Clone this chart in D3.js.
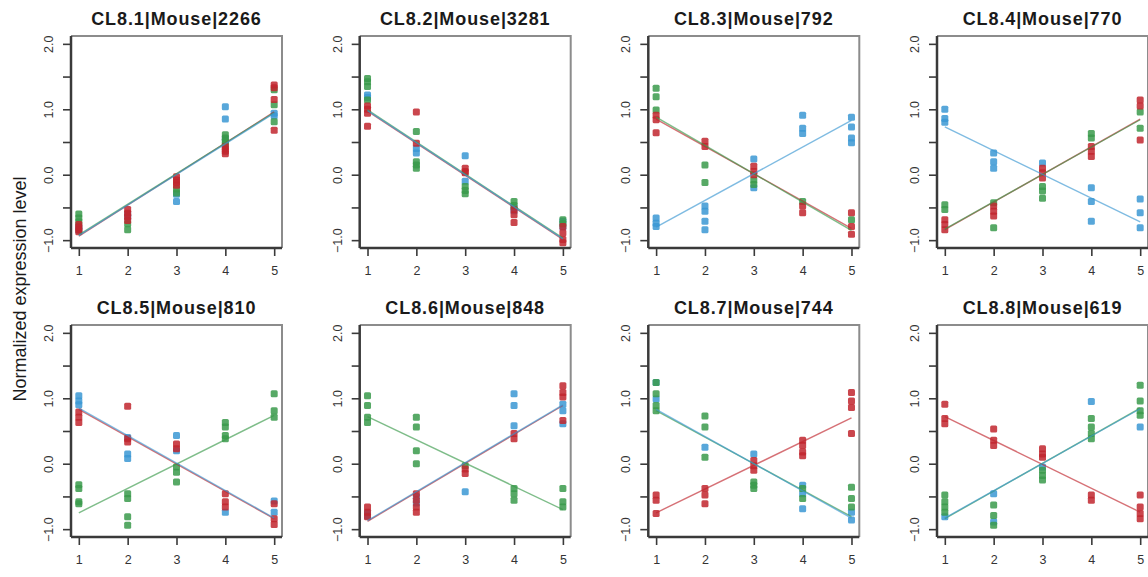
<!DOCTYPE html>
<html><head><meta charset="utf-8">
<script src="https://cdn.jsdelivr.net/npm/d3@7"></script>
<style>body{margin:0;background:#fff} svg{display:block}</style>
</head><body><svg id="chart" width="1148" height="577"></svg>
<script>
const titles = ["CL8.1|Mouse|2266","CL8.2|Mouse|3281","CL8.3|Mouse|792","CL8.4|Mouse|770",
                "CL8.5|Mouse|810","CL8.6|Mouse|848","CL8.7|Mouse|744","CL8.8|Mouse|619"];
const xLevels = [1,2,3,4,5];
const yTicks = [-1,-0.5,0,0.5,1,1.5,2];
const yLabelTicks = [-1,0,1,2];
const seriesKeys = ["blue","green","red"];
const lineOrder = ["red","green","blue"];
const seriesColors = {blue:"#3b98d3", green:"#3a9a4b", red:"#c1262e"};
const yAxisTitle = "Normalized expression level";

// points per series: one list of values per x level (1..5)
const panel1 = {
  blue:  [[-0.80,-0.85],[-0.60,-0.65],[-0.30,-0.41],[1.04,0.85,0.55],[0.94,0.90]],
  green: [[-0.60,-0.66,-0.72],[-0.75,-0.84],[-0.22,-0.28],[0.61,0.56,0.51,0.47],[1.30,1.07,0.81]],
  red:   [[-0.76,-0.80,-0.84,-0.87],[-0.53,-0.59,-0.64,-0.70],[-0.03,-0.08,-0.12,-0.16],[0.43,0.39,0.36,0.32],[1.37,1.33,1.15,0.68]]
};
const panel2 = {
  blue:  [[1.22,1.18],[0.33,0.40],[0.29,-0.10],[-0.50,-0.55],[-0.71,-0.80]],
  green: [[1.47,1.42,1.35,1.14],[0.66,0.20,0.15,0.10],[-0.18,-0.24,-0.29],[-0.41,-0.47],[-0.69,-0.75]],
  red:   [[1.05,1.00,0.94,0.74],[0.96,0.48],[0.10,0.05,0.03],[-0.53,-0.61,-0.73],[-0.79,-0.89,-0.99,-1.04]]
};
const panel3 = {
  blue:  [[-0.66,-0.74,-0.79],[-0.48,-0.56,-0.71,-0.84],[0.24,-0.20],[0.91,0.71,0.63],[0.88,0.73,0.56,0.49]],
  green: [[1.32,1.19,0.99],[0.15,-0.12],[-0.08,-0.15],[-0.41],[-0.69]],
  red:   [[0.91,0.84,0.64],[0.51,0.43],[0.13,0.05,0.00],[-0.48,-0.58],[-0.58,-0.79,-0.91]]
};
const panel4 = {
  blue:  [[1.00,0.86,0.80],[0.33,0.20,0.10],[0.18],[-0.20,-0.41,-0.71],[-0.37,-0.58,-0.81]],
  green: [[-0.46,-0.53],[-0.43,-0.81],[-0.18,-0.25,-0.36],[0.63,0.56],[0.96,0.71]],
  red:   [[-0.69,-0.76,-0.84],[-0.48,-0.56,-0.63],[0.10,0.03,-0.05],[0.43,0.36,0.28],[1.14,1.05,0.53]]
};
const panel5 = {
  blue:  [[1.04,0.96,0.90],[0.40,0.15,0.08],[0.43,0.20],[-0.74],[-0.57,-0.74]],
  green: [[-0.32,-0.38,-0.58,-0.61],[-0.46,-0.53,-0.81,-0.94],[-0.05,-0.13,-0.28],[0.63,0.56,0.43,0.38],[1.07,0.81,0.71]],
  red:   [[0.79,0.71,0.63],[0.88,0.38,0.33],[0.30,0.23],[-0.46,-0.58,-0.66],[-0.61,-0.84,-0.93]]
};
const panel6 = {
  blue:  [[-0.75,-0.80],[-0.50,-0.60],[-0.43],[1.07,0.89,0.58],[0.91,0.81,0.61]],
  green: [[1.04,0.89,0.71,0.63],[0.71,0.56,0.20,0.00],[-0.03],[-0.38,-0.46,-0.56],[-0.38,-0.58,-0.66]],
  red:   [[-0.66,-0.74,-0.81],[-0.46,-0.56,-0.66,-0.74],[-0.08,-0.15],[0.46,0.38],[1.19,1.09,1.02,0.66]]
};
const panel7 = {
  blue:  [[1.24,0.99],[0.25],[0.15],[-0.33,-0.46,-0.69],[-0.74,-0.86]],
  green: [[1.24,1.07,0.89,0.81],[0.73,0.56,0.10],[-0.28,-0.33,-0.38],[-0.38,-0.53],[-0.36,-0.53,-0.66]],
  red:   [[-0.48,-0.56,-0.76],[-0.38,-0.48,-0.61],[0.05,-0.03,-0.10],[0.36,0.28,0.18,0.12],[1.09,0.96,0.86,0.46]]
};
const panel8 = {
  blue:  [[-0.81],[-0.46,-0.89],[-0.05],[0.95],[0.56]],
  green: [[-0.48,-0.58,-0.66,-0.74],[-0.63,-0.79,-0.94],[-0.10,-0.18,-0.25],[0.69,0.56,0.46,0.38],[1.20,0.96,0.81,0.74]],
  red:   [[0.91,0.69,0.61],[0.53,0.36,0.28],[0.23,0.15,0.10],[-0.48,-0.56],[-0.48,-0.66,-0.76,-0.84]]
};
const panels = [panel1,panel2,panel3,panel4,panel5,panel6,panel7,panel8];

// fitted line values at x=1 and x=5 for each series
const fits = [
  {blue:[-0.93,0.94], green:[-0.92,0.95], red:[-0.94,0.96]},
  {blue:[0.98,-0.98], green:[0.99,-0.97], red:[0.97,-0.99]},
  {blue:[-0.80,0.83], green:[0.88,-0.85], red:[0.85,-0.82]},
  {blue:[0.73,-0.72], green:[-0.83,0.84], red:[-0.84,0.85]},
  {blue:[0.85,-0.83], green:[-0.75,0.74], red:[0.83,-0.84]},
  {blue:[-0.87,0.90], green:[0.72,-0.70], red:[-0.88,0.89]},
  {blue:[0.83,-0.83], green:[0.81,-0.81], red:[-0.75,0.70]},
  {blue:[-0.83,0.84], green:[-0.84,0.85], red:[0.72,-0.74]}
];

const svg = d3.select("#chart");
const colLeft = [71, 359.7, 648.3, 937];
const rowTop = [36, 325];
const W = 211, H = 212;
const x = d3.scaleLinear().domain([0.84, 5.16]).range([0, W]);
const y = d3.scaleLinear().domain([-1.12, 2.12]).range([H, 0]);
const fmt = v => (v < 0 ? "\u2212" : "") + Math.abs(v).toFixed(1);

panels.forEach((pd, i) => {
  const g = svg.append("g").attr("transform", `translate(${colLeft[i % 4]},${rowTop[Math.floor(i / 4)]})`);
  // title
  g.append("text").attr("x", W / 2).attr("y", -11).attr("text-anchor", "middle")
    .attr("font-family", "Liberation Sans, Arial, sans-serif").attr("font-weight", "bold")
    .attr("font-size", 18).attr("letter-spacing", 0.9).attr("fill", "#1a1a1a").text(titles[i]);
  // frame: top/right lighter
  g.append("path").attr("d", `M0,0H${W}V${H}`).attr("fill", "none").attr("stroke", "#8c8c8c").attr("stroke-width", 2);
  // axes
  const ya = d3.axisLeft(y).tickValues(yTicks).tickSize(8).tickFormat(v => yLabelTicks.includes(v) ? fmt(v) : "");
  const yg = g.append("g").call(ya);
  yg.select(".domain").attr("d", `M0,0V${H}`).attr("stroke", "#3a3a3a").attr("stroke-width", 2.5);
  yg.selectAll(".tick line").attr("stroke", "#3a3a3a").attr("stroke-width", 1.6);
  yg.selectAll(".tick text").attr("transform", "rotate(-90)").attr("x", 0).attr("dx", 0)
    .attr("y", -18).attr("dy", 0).attr("text-anchor", "middle")
    .attr("font-family", "Liberation Sans, Arial, sans-serif").attr("font-size", 12.5).attr("fill", "#333");
  const xa = d3.axisBottom(x).tickValues(xLevels).tickSize(8).tickFormat(d3.format("d"));
  const xg = g.append("g").attr("transform", `translate(0,${H})`).call(xa);
  xg.select(".domain").attr("d", `M0,0H${W}`).attr("stroke", "#3a3a3a").attr("stroke-width", 2.5);
  xg.selectAll(".tick line").attr("stroke", "#3a3a3a").attr("stroke-width", 1.6);
  xg.selectAll(".tick text").attr("y", 18).attr("dy", "0.71em")
    .attr("font-family", "Liberation Sans, Arial, sans-serif").attr("font-size", 12.5).attr("fill", "#333");
  // points
  seriesKeys.forEach(k => {
    const pts = [];
    pd[k].forEach((vals, j) => vals.forEach(v => pts.push([xLevels[j], v])));
    g.append("g").selectAll("rect").data(pts).join("rect")
      .attr("x", d => x(d[0]) - 3.5).attr("y", d => y(d[1]) - 3.5)
      .attr("width", 7).attr("height", 7).attr("rx", 1.5)
      .attr("fill", seriesColors[k]).attr("opacity", 0.85);
  });
  // fitted lines
  lineOrder.forEach(k => {
    const f = fits[i][k];
    g.append("line").attr("x1", x(1)).attr("y1", y(f[0])).attr("x2", x(5)).attr("y2", y(f[1]))
      .attr("stroke", seriesColors[k]).attr("stroke-width", 1.4).attr("opacity", 0.65);
  });
});

svg.append("text").attr("transform", "translate(26,289) rotate(-90)").attr("text-anchor", "middle")
  .attr("font-family", "Liberation Sans, Arial, sans-serif").attr("font-size", 18).attr("fill", "#1a1a1a")
  .text(yAxisTitle);
</script></body></html>
